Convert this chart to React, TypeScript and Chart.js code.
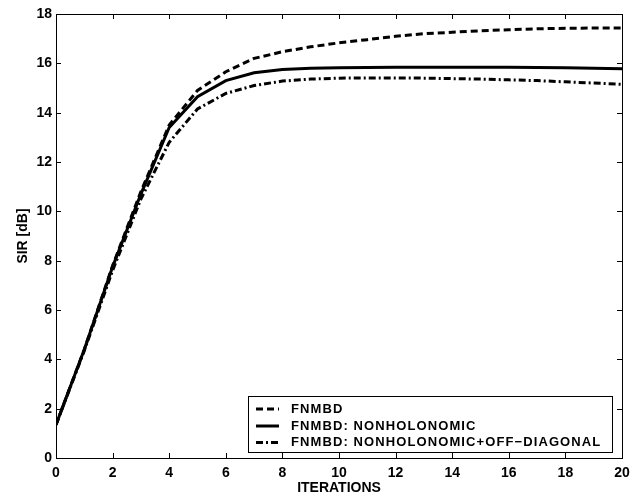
import React, { useEffect, useRef } from "react";
import { Chart, registerables } from "chart.js";

Chart.register(...registerables);

const iterations = [0, 1, 2, 3, 4, 5, 6, 7, 8, 9, 10, 11, 12, 13, 14, 15, 16, 17, 18, 19, 20];
const fnmbd = [1.35, 4.4, 7.8, 10.8, 13.5, 14.9, 15.66, 16.2, 16.47, 16.67, 16.83, 16.96, 17.1, 17.2, 17.26, 17.32, 17.36, 17.4, 17.42, 17.43, 17.43];
const nonholonomic = [1.35, 4.4, 7.75, 10.7, 13.4, 14.65, 15.3, 15.62, 15.75, 15.8, 15.82, 15.83, 15.84, 15.84, 15.84, 15.84, 15.84, 15.83, 15.82, 15.8, 15.78];
const offDiagonal = [1.35, 4.35, 7.6, 10.5, 12.8, 14.15, 14.78, 15.1, 15.28, 15.36, 15.4, 15.41, 15.41, 15.4, 15.38, 15.36, 15.33, 15.3, 15.25, 15.2, 15.15];
const seriesLabels = ["FNMBD", "FNMBD: NONHOLONOMIC", "FNMBD: NONHOLONOMIC+OFF\u2212DIAGONAL"];
const xTickValues = [0, 2, 4, 6, 8, 10, 12, 14, 16, 18, 20];
const yTickValues = [0, 2, 4, 6, 8, 10, 12, 14, 16, 18];
const xTitle = "ITERATIONS";
const yTitle = "SIR [dB]";

const FONT = "'Liberation Sans', Arial, sans-serif";

const boxPlugin = {
  id: "matlabBox",
  afterDraw(chart: any) {
    const { ctx, chartArea } = chart;
    const { left, right, top, bottom } = chartArea;
    const xs = chart.scales.x;
    const ys = chart.scales.y;
    ctx.save();
    ctx.strokeStyle = "#000";
    ctx.lineWidth = 1;
    ctx.strokeRect(Math.round(left) + 0.5, Math.round(top) + 0.5, Math.round(right - left), Math.round(bottom - top));
    const tl = 5;
    ctx.beginPath();
    xTickValues.forEach((v) => {
      const px = Math.round(xs.getPixelForValue(v)) + 0.5;
      ctx.moveTo(px, bottom);
      ctx.lineTo(px, bottom - tl);
      ctx.moveTo(px, top);
      ctx.lineTo(px, top + tl);
    });
    yTickValues.forEach((v) => {
      const py = Math.round(ys.getPixelForValue(v)) + 0.5;
      ctx.moveTo(left, py);
      ctx.lineTo(left + tl, py);
      ctx.moveTo(right, py);
      ctx.lineTo(right - tl, py);
    });
    ctx.stroke();

    // legend
    const bx = 248, by = 396, bw = 364, bh = 56;
    ctx.fillStyle = "#fff";
    ctx.fillRect(bx, by, bw, bh);
    ctx.strokeRect(bx + 0.5, by + 0.5, bw, bh);
    const rows = [409, 426, 442.5];
    chart.data.datasets.forEach((ds: any, i: number) => {
      const y = rows[i];
      ctx.save();
      ctx.strokeStyle = ds.borderColor;
      ctx.lineWidth = ds.borderWidth;
      ctx.setLineDash(ds.borderDash || []);
      ctx.beginPath();
      ctx.moveTo(256, y);
      ctx.lineTo(279, y);
      ctx.stroke();
      ctx.restore();
      ctx.fillStyle = "#000";
      ctx.font = "bold 13px " + FONT;
      (ctx as any).letterSpacing = "1.1px";
      ctx.textBaseline = "middle";
      ctx.textAlign = "left";
      ctx.fillText(ds.label, 291, y);
      (ctx as any).letterSpacing = "0px";
    });
    ctx.restore();
  },
};

export default function App() {
  const ref = useRef<HTMLCanvasElement>(null);
  useEffect(() => {
    document.body.style.margin = "0";
    const canvas = ref.current!;
    const mk = (arr: number[]) => iterations.map((x, i) => ({ x, y: arr[i] }));
    const chart = new Chart(canvas, {
      type: "line",
      data: {
        datasets: [
          { label: seriesLabels[0], data: mk(fnmbd), borderColor: "#000", borderWidth: 3, borderDash: [7, 4], pointRadius: 0, tension: 0, fill: false },
          { label: seriesLabels[1], data: mk(nonholonomic), borderColor: "#000", borderWidth: 3, pointRadius: 0, tension: 0, fill: false },
          { label: seriesLabels[2], data: mk(offDiagonal), borderColor: "#000", borderWidth: 3, borderDash: [7, 3, 2, 3], pointRadius: 0, tension: 0, fill: false },
        ],
      },
      options: {
        animation: false,
        responsive: false,
        devicePixelRatio: 1,
        layout: { padding: { top: 14, right: 21, bottom: 0, left: 0 } },
        plugins: { legend: { display: false }, tooltip: { enabled: false } },
        scales: {
          x: {
            type: "linear",
            min: 0,
            max: 20,
            afterBuildTicks: (s: any) => { s.ticks = xTickValues.map((v) => ({ value: v })); },
            afterFit: (s: any) => { s.height = 35; },
            grid: { display: false, drawTicks: false },
            border: { display: false },
            ticks: { color: "#000", padding: 7, maxRotation: 0, autoSkip: false, font: { family: FONT, size: 14, weight: "bold" } },
            title: { display: true, text: xTitle, color: "#000", padding: { top: 0, bottom: -2 }, font: { family: FONT, size: 14, weight: "bold", lineHeight: 1 } },
          },
          y: {
            type: "linear",
            min: 0,
            max: 18,
            afterBuildTicks: (s: any) => { s.ticks = yTickValues.map((v) => ({ value: v })); },
            afterFit: (s: any) => { s.width = 56; },
            grid: { display: false, drawTicks: false },
            border: { display: false },
            ticks: { color: "#000", padding: 4, autoSkip: false, font: { family: FONT, size: 14, weight: "bold" } },
            title: { display: true, text: yTitle, color: "#000", padding: { top: 16, bottom: 0 }, font: { family: FONT, size: 14, weight: "bold", lineHeight: 1 } },
          },
        },
      },
      plugins: [boxPlugin],
    } as any);
    return () => chart.destroy();
  }, []);
  return (
    <div style={{ position: "absolute", left: 0, top: 0, width: 643, height: 493 }}>
      <canvas ref={ref} width={643} height={493} />
    </div>
  );
}
